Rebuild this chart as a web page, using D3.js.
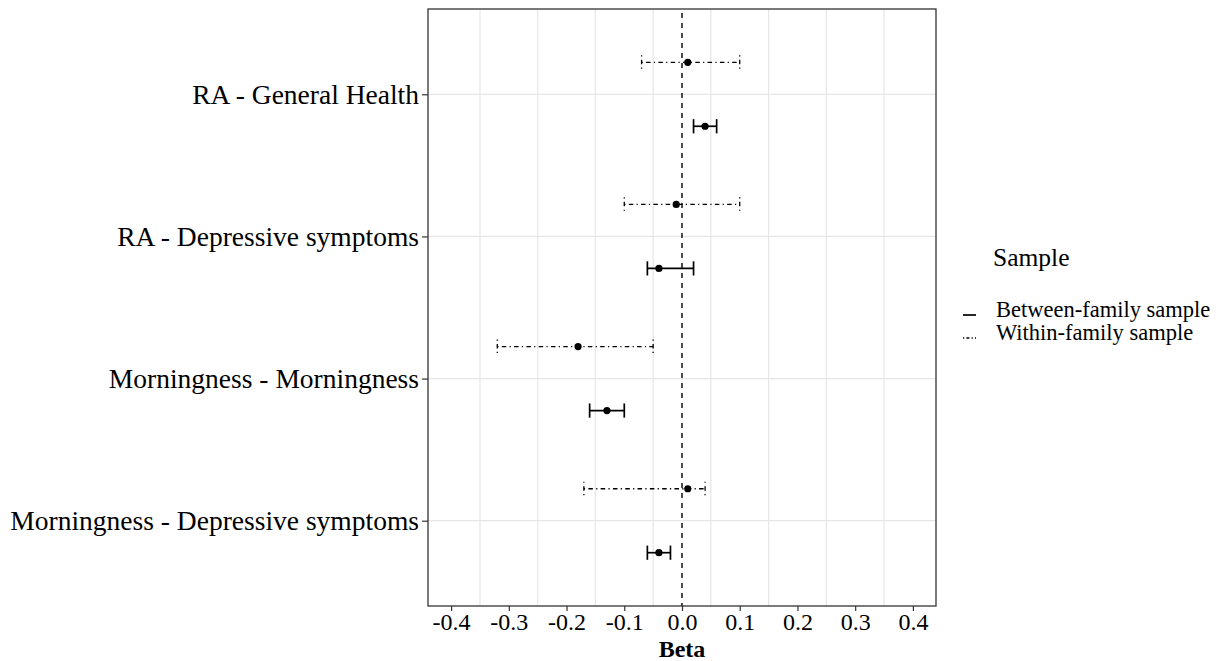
<!DOCTYPE html>
<html>
<head>
<meta charset="utf-8">
<script src="https://d3js.org/d3.v7.min.js"></script>
<style>
  body { margin: 0; background: #fff; }
  svg { display: block; }
  text { font-family: "Liberation Serif", "Times New Roman", serif; fill: #000; }
</style>
</head>
<body>
<div id="chart"></div>
<script>

var categories = ["RA - General Health", "RA - Depressive symptoms",
                  "Morningness - Morningness", "Morningness - Depressive symptoms"];

// Between-family sample (solid)
var betweenBeta = [0.04, -0.04, -0.13, -0.04];
var betweenLo   = [0.02, -0.06, -0.16, -0.06];
var betweenHi   = [0.06,  0.02, -0.10, -0.02];

// Within-family sample (dot-dash)
var withinBeta = [0.01, -0.01, -0.18,  0.01];
var withinLo   = [-0.07, -0.10, -0.32, -0.17];
var withinHi   = [0.10,  0.10, -0.05,  0.04];

var xTicks = [-0.4, -0.3, -0.2, -0.1, 0.0, 0.1, 0.2, 0.3, 0.4];
var xTickLabels = ["-0.4", "-0.3", "-0.2", "-0.1", "0.0", "0.1", "0.2", "0.3", "0.4"];
var legendLabels = ["Between-family sample", "Within-family sample"];

var W = 1229, H = 661;
var panel = {left: 428, right: 936, top: 9, bottom: 606};
var dotdash = "1.2,3.3,4.5,3.3";

var svg = d3.select("#chart").append("svg")
    .attr("width", W)
    .attr("height", H);

var x = d3.scaleLinear().domain([-0.44, 0.44]).range([panel.left, panel.right]);
var y = d3.scalePoint().domain(categories).range([panel.top, panel.bottom]).padding(0.6);
var dodge = y.step() * 0.225;
var capH = y.step() * 0.05;

// gridlines: horizontal on categories, vertical halfway between ticks
var grid = svg.append("g").attr("stroke", "#e6e6e6").attr("stroke-width", 1.2);
grid.selectAll(".gy").data(categories).enter().append("line")
    .attr("x1", panel.left).attr("x2", panel.right)
    .attr("y1", function(d) { return y(d); })
    .attr("y2", function(d) { return y(d); });
grid.selectAll(".gx").data(d3.pairs(xTicks)).enter().append("line")
    .attr("x1", function(d) { return x((d[0] + d[1]) / 2); })
    .attr("x2", function(d) { return x((d[0] + d[1]) / 2); })
    .attr("y1", panel.top).attr("y2", panel.bottom);

// zero reference line
svg.append("line")
    .attr("x1", x(0)).attr("x2", x(0))
    .attr("y1", panel.top + 4).attr("y2", panel.bottom)
    .attr("stroke", "#000").attr("stroke-width", 1.4)
    .attr("stroke-dasharray", "5,5");

function drawSeries(beta, lo, hi, offset, width, dash) {
  var g = svg.append("g");
  var rows = categories.map(function(c, i) {
    return {cat: c, b: beta[i], lo: lo[i], hi: hi[i]};
  });
  var cy = function(d) { return y(d.cat) + offset; };
  var line = g.selectAll(".eb").data(rows).enter().append("g")
      .attr("stroke", "#000").attr("stroke-width", width)
      .attr("stroke-dasharray", dash);
  line.append("line")
      .attr("x1", function(d) { return x(d.lo); })
      .attr("x2", function(d) { return x(d.hi); })
      .attr("y1", cy).attr("y2", cy);
  line.append("line")
      .attr("x1", function(d) { return x(d.lo); })
      .attr("x2", function(d) { return x(d.lo); })
      .attr("y1", function(d) { return cy(d) - capH; })
      .attr("y2", function(d) { return cy(d) + capH; });
  line.append("line")
      .attr("x1", function(d) { return x(d.hi); })
      .attr("x2", function(d) { return x(d.hi); })
      .attr("y1", function(d) { return cy(d) - capH; })
      .attr("y2", function(d) { return cy(d) + capH; });
  g.selectAll("circle").data(rows).enter().append("circle")
      .attr("cx", function(d) { return x(d.b); })
      .attr("cy", cy)
      .attr("r", 3.6)
      .attr("fill", "#000");
}

drawSeries(withinBeta, withinLo, withinHi, -dodge, 1.3, dotdash);
drawSeries(betweenBeta, betweenLo, betweenHi, dodge, 1.7, null);

// panel border
svg.append("rect")
    .attr("x", panel.left).attr("y", panel.top)
    .attr("width", panel.right - panel.left)
    .attr("height", panel.bottom - panel.top)
    .attr("fill", "none").attr("stroke", "#333").attr("stroke-width", 1.3);

// y axis
var yAxis = svg.append("g")
    .attr("transform", "translate(" + panel.left + ",0)")
    .call(d3.axisLeft(y).tickSize(6).tickPadding(3));
yAxis.select(".domain").remove();
yAxis.selectAll(".tick line").attr("stroke", "#333").attr("stroke-width", 1.2);
yAxis.selectAll(".tick text")
    .style("font-size", "27.5px")
    .attr("fill", "#000");

// x axis
var xAxis = svg.append("g")
    .attr("transform", "translate(0," + panel.bottom + ")")
    .call(d3.axisBottom(x).tickValues(xTicks)
      .tickFormat(function(d, i) { return xTickLabels[i]; })
      .tickSize(5).tickPadding(2));
xAxis.select(".domain").remove();
xAxis.selectAll(".tick line").attr("stroke", "#333").attr("stroke-width", 1.2);
xAxis.selectAll(".tick text")
    .style("font-size", "24px")
    .attr("fill", "#000");

svg.append("text")
    .attr("x", (panel.left + panel.right) / 2)
    .attr("y", 657)
    .attr("text-anchor", "middle")
    .style("font-size", "24px")
    .style("font-weight", "bold")
    .text("Beta");

// legend
var legend = svg.append("g");
legend.append("text")
    .attr("x", 993).attr("y", 266)
    .style("font-size", "25.5px")
    .text("Sample");
var keys = legend.selectAll(".key").data(legendLabels).enter().append("g")
    .attr("transform", function(d, i) { return "translate(963," + (315 + i * 23) + ")"; });
keys.append("line")
    .attr("x1", 0).attr("x2", 13)
    .attr("stroke", "#000")
    .attr("stroke-width", function(d, i) { return i == 0 ? 1.7 : 1.3; })
    .attr("stroke-dasharray", function(d, i) { return i == 0 ? null : "1.2,2.2,3,2.2"; });
keys.append("text")
    .attr("x", 33).attr("y", 2)
    .style("font-size", "22.5px")
    .text(function(d) { return d; });

</script>
</body>
</html>
